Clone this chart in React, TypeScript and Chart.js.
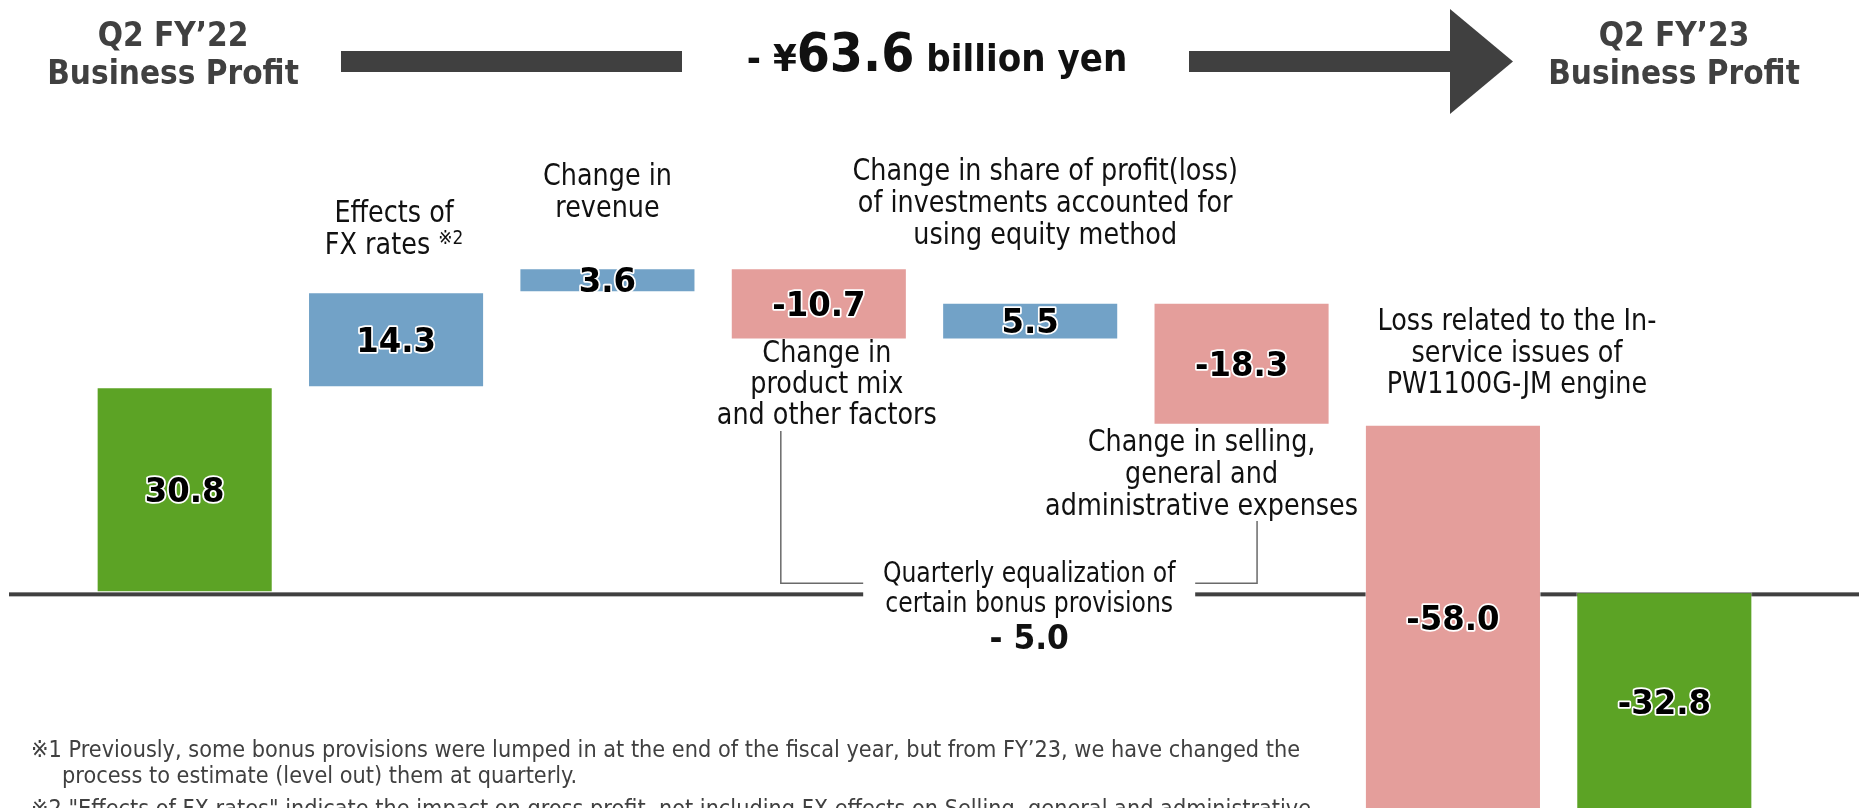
import { useEffect, useRef } from "react";
import { Chart, registerables } from "chart.js";

Chart.register(...registerables);

// ---------- data ----------
const categories = [
  "Q2 FY’22 Business Profit",
  "Effects of FX rates",
  "Change in revenue",
  "Change in product mix and other factors",
  "Change in share of profit(loss) of investments accounted for using equity method",
  "Change in selling, general and administrative expenses",
  "Loss related to the In-service issues of PW1100G-JM engine",
  "Q2 FY’23 Business Profit",
];
const amounts = [30.8, 14.3, 3.6, -10.7, 5.5, -18.3, -58.0, -32.8];
const isTotal = [true, false, false, false, false, false, false, true];
const barColors = ["#5ca325", "#72a2c7", "#72a2c7", "#e49e9b", "#72a2c7", "#e49e9b", "#e49e9b", "#5ca325"];

const labelLines: string[][] = [
  [],
  ["Effects of", "FX rates"],
  ["Change in", "revenue"],
  ["Change in", "product mix", "and other factors"],
  ["Change in share of profit(loss)", "of investments accounted for", "using equity method"],
  ["Change in selling,", "general and", "administrative expenses"],
  ["Loss related to the In-", "service issues of", "PW1100G-JM engine"],
  [],
];
const fxNoteMark = "※2";
const bonusLines = ["Quarterly equalization of", "certain bonus provisions"];
const bonusValue = -5.0;
const headerStart = ["Q2 FY’22", "Business Profit"];
const headerEnd = ["Q2 FY’23", "Business Profit"];
const totalChange = -63.6;
const footnotes = [
  "※1 Previously, some bonus provisions were lumped in at the end of the fiscal year, but from FY’23, we have changed the",
  "process to estimate (level out) them at quarterly.",
  "※2 \"Effects of FX rates\" indicate the impact on gross profit, not including FX effects on Selling, general and administrative",
];

// ---------- helpers ----------
const FONT = '"DejaVu Sans", "Noto Sans", sans-serif';
const BODY_SX = 0.85;

function drawText(
  ctx: CanvasRenderingContext2D,
  text: string,
  x: number,
  y: number,
  font: string,
  color: string,
  sx = 1,
  align: "center" | "left" | "right" = "center",
  stroke?: { color: string; width: number }
) {
  ctx.save();
  ctx.font = font;
  ctx.textBaseline = "alphabetic";
  ctx.textAlign = "left";
  const w = ctx.measureText(text).width * sx;
  const left = align === "center" ? x - w / 2 : align === "right" ? x - w : x;
  ctx.translate(left, y);
  ctx.scale(sx, 1);
  if (stroke) {
    ctx.strokeStyle = stroke.color;
    ctx.lineWidth = stroke.width;
    ctx.lineJoin = "round";
    ctx.strokeText(text, 0, 0);
  }
  ctx.fillStyle = color;
  ctx.fillText(text, 0, 0);
  ctx.restore();
  return w;
}

function measure(ctx: CanvasRenderingContext2D, text: string, font: string, sx = 1) {
  ctx.save();
  ctx.font = font;
  const w = ctx.measureText(text).width * sx;
  ctx.restore();
  return w;
}

function fmtSigned(v: number) {
  return v < 0 ? "- " + Math.abs(v).toFixed(1) : v.toFixed(1);
}

export default function App() {
  const ref = useRef<HTMLCanvasElement | null>(null);

  useEffect(() => {
    document.body.style.margin = "0";
    document.body.style.overflow = "hidden";
    const canvas = ref.current;
    if (!canvas) return;

    const ranges: [number, number][] = [];
    let run = 0;
    amounts.forEach((a, i) => {
      if (isTotal[i]) {
        ranges.push([0, a]);
        run = a;
      } else {
        ranges.push([run, run + a]);
        run += a;
      }
    });

    const placements: ({ anchor: "top" | "bottom"; dx: number; base: number[] } | null)[] = [
      null,
      { anchor: "top", dx: -2, base: [-70, -38] },
      { anchor: "top", dx: 0, base: [-83, -51] },
      { anchor: "bottom", dx: 8, base: [23, 54, 85] },
      { anchor: "top", dx: 15, base: [-123, -91, -59] },
      { anchor: "bottom", dx: -40, base: [26, 58, 90] },
      { anchor: "top", dx: 64, base: [-95, -63, -32] },
      null,
    ];

    const GAP_HALF = 166;

    const annot = {
      id: "waterfallAnnot",
      beforeDatasetsDraw(chart: any) {
        const ctx: CanvasRenderingContext2D = chart.ctx;
        const y0 = chart.scales.y.getPixelForValue(0);
        const meta = chart.getDatasetMeta(0);
        const cx = meta.data[4].x - 1;
        ctx.save();
        ctx.fillStyle = "#404040";
        ctx.fillRect(9, y0, cx - GAP_HALF - 9, 4);
        ctx.fillRect(cx + GAP_HALF, y0, chart.width - (cx + GAP_HALF), 4);
        ctx.restore();
      },
      afterDatasetsDraw(chart: any) {
        const ctx: CanvasRenderingContext2D = chart.ctx;
        const y0 = chart.scales.y.getPixelForValue(0);
        const meta = chart.getDatasetMeta(0);
        const bodyFont = `30px ${FONT}`;

        // value labels
        meta.data.forEach((bar: any, i: number) => {
          const top = Math.max(Math.min(bar.y, bar.base), 0);
          const bottom = Math.max(bar.y, bar.base);
          const mid = (top + bottom) / 2;
          drawText(ctx, amounts[i].toFixed(1), bar.x, mid + 12, `bold 33px ${FONT}`, "#000", 0.98, "center", {
            color: "#ffffff",
            width: 3.5,
          });
        });

        // category labels
        meta.data.forEach((bar: any, i: number) => {
          const p = placements[i];
          if (!p) return;
          const top = Math.min(bar.y, bar.base);
          const bottom = Math.max(bar.y, bar.base);
          const anchorY = p.anchor === "top" ? top : bottom;
          labelLines[i].forEach((line, k) => {
            const y = anchorY + p.base[k];
            if (i === 1 && k === 1) {
              const smallFont = `20px ${FONT}`;
              const w1 = measure(ctx, line, bodyFont, BODY_SX);
              const w2 = measure(ctx, fxNoteMark, smallFont, BODY_SX);
              const total = w1 + 8 + w2;
              const left = bar.x + p.dx - total / 2;
              drawText(ctx, line, left, y, bodyFont, "#111", BODY_SX, "left");
              drawText(ctx, fxNoteMark, left + w1 + 8, y - 10, smallFont, "#111", BODY_SX, "left");
            } else {
              drawText(ctx, line, bar.x + p.dx, y, bodyFont, "#111", BODY_SX, "center");
            }
          });
        });

        // bonus annotation + brackets
        const cx = meta.data[4].x - 1;
        const bonusFont = `28px ${FONT}`;
        drawText(ctx, bonusLines[0], cx, y0 - 10, bonusFont, "#111", 0.84);
        drawText(ctx, bonusLines[1], cx, y0 + 20, bonusFont, "#111", 0.84);
        drawText(ctx, fmtSigned(bonusValue), cx, y0 + 57, `bold 33px ${FONT}`, "#111", 0.95);

        ctx.save();
        ctx.strokeStyle = "#6a6a6a";
        ctx.lineWidth = 1.5;
        const lx = meta.data[3].x - 38;
        const rx = meta.data[5].x + 15.5;
        const by = y0 - 9;
        ctx.beginPath();
        ctx.moveTo(lx, 431);
        ctx.lineTo(lx, by);
        ctx.lineTo(cx - GAP_HALF, by);
        ctx.moveTo(cx + GAP_HALF, by);
        ctx.lineTo(rx, by);
        ctx.lineTo(rx, 521);
        ctx.stroke();
        ctx.restore();

        // header titles
        const hFont = `bold 33px ${FONT}`;
        const hSX = 0.9;
        drawText(ctx, headerStart[0], 173, 46, hFont, "#404040", hSX);
        drawText(ctx, headerStart[1], 173, 84, hFont, "#404040", hSX);
        drawText(ctx, headerEnd[0], 1674, 46, hFont, "#404040", hSX);
        drawText(ctx, headerEnd[1], 1674, 84, hFont, "#404040", hSX);

        // arrow
        ctx.save();
        ctx.fillStyle = "#404040";
        ctx.fillRect(341, 51, 682 - 341, 21);
        ctx.fillRect(1189, 51, 1451 - 1189, 21);
        ctx.beginPath();
        ctx.moveTo(1450, 9);
        ctx.lineTo(1513, 61.5);
        ctx.lineTo(1450, 114);
        ctx.closePath();
        ctx.fill();
        ctx.restore();

        // total change title
        const tSX = 0.9;
        const pieces = [
          { t: (totalChange < 0 ? "- " : "") + "¥", f: `bold 38px ${FONT}` },
          { t: Math.abs(totalChange).toFixed(1), f: `bold 53px ${FONT}` },
          { t: " billion yen", f: `bold 38px ${FONT}` },
        ];
        const widths = pieces.map((p) => measure(ctx, p.t, p.f, tSX));
        let xx = 937 - widths.reduce((a, b) => a + b, 0) / 2;
        pieces.forEach((p, k) => {
          drawText(ctx, p.t, xx, 71, p.f, "#111", tSX, "left");
          xx += widths[k];
        });

        // footnotes
        const fFont = `23px ${FONT}`;
        const fsx = 1269 / measure(ctx, footnotes[0], fFont, 1);
        drawText(ctx, footnotes[0], 31, 757, fFont, "#404040", fsx, "left");
        drawText(ctx, footnotes[1], 62, 783, fFont, "#404040", fsx, "left");
        drawText(ctx, footnotes[2], 31, 816, fFont, "#404040", fsx, "left");
      },
    };

    const chart = new Chart(canvas, {
      type: "bar",
      data: {
        labels: categories,
        datasets: [
          {
            data: ranges as any,
            backgroundColor: barColors,
            borderColor: "rgba(255,255,255,0.45)",
            borderWidth: 1,
            borderSkipped: false,
            barPercentage: 0.833,
            categoryPercentage: 1,
          },
        ],
      },
      options: {
        responsive: false,
        animation: false,
        devicePixelRatio: 1,
        layout: { padding: { left: 79, right: 89, top: 0, bottom: 0 } },
        plugins: { legend: { display: false }, tooltip: { enabled: false } },
        scales: {
          x: { display: false },
          y: { display: false, min: -32.4, max: 89 },
        },
      },
      plugins: [annot],
    });

    return () => chart.destroy();
  }, []);

  return (
    <div style={{ width: 1859, height: 808, background: "#fff" }}>
      <canvas ref={ref} width={1859} height={808} style={{ display: "block" }} />
    </div>
  );
}
